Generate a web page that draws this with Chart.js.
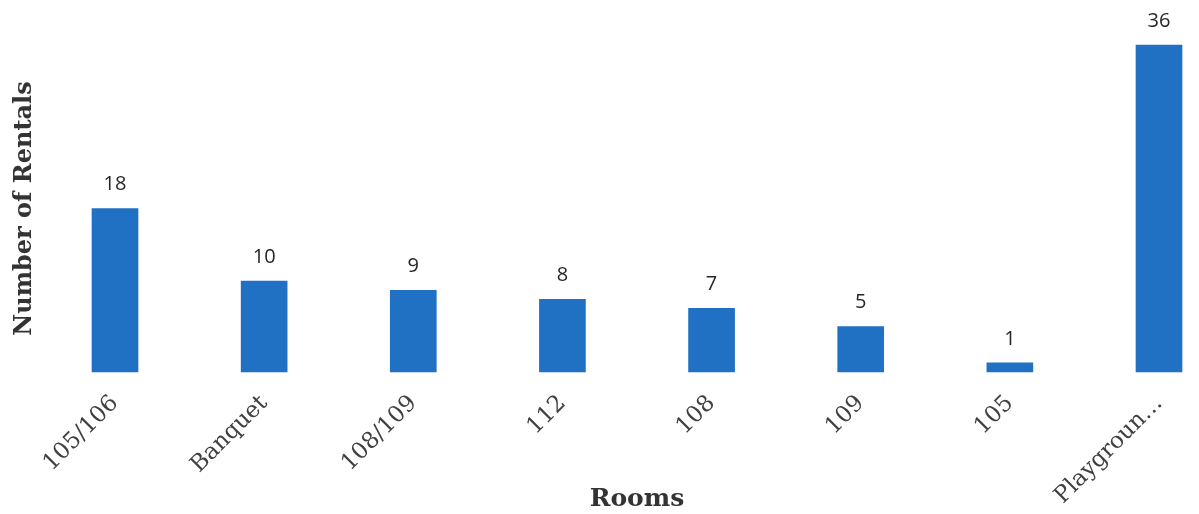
<!DOCTYPE html>
<html>
<head>
<meta charset="utf-8">
<script src="https://cdn.jsdelivr.net/npm/chart.js@4.4.1/dist/chart.umd.min.js"></script>
<style>
  html, body { margin: 0; padding: 0; background: #ffffff; }
  #wrap { width: 1199px; height: 514px; position: relative; }
</style>
</head>
<body>
<div id="wrap"><canvas id="c" width="1199" height="514"></canvas></div>
<script>
const rooms = ["105/106", "Banquet", "108/109", "112", "108", "109", "105", "Playgroun\u2026"];
const rentals = [18, 10, 9, 8, 7, 5, 1, 36];
const yTitle = "Number of Rentals";
const xTitle = "Rooms";

const valueLabels = {
  id: 'valueLabels',
  afterDatasetsDraw(chart) {
    const ctx = chart.ctx;
    const meta = chart.getDatasetMeta(0);
    ctx.save();
    ctx.font = '20px "Open Sans", "Noto Sans", sans-serif';
    ctx.fillStyle = '#262626';
    ctx.textAlign = 'center';
    ctx.textBaseline = 'middle';
    meta.data.forEach((bar, i) => {
      ctx.fillText(String(chart.data.datasets[0].data[i]), bar.x, bar.y - 24);
    });
    ctx.restore();
  }
};

new Chart(document.getElementById('c'), {
  type: 'bar',
  data: {
    labels: rooms,
    datasets: [{
      data: rentals,
      backgroundColor: '#2070c4',
      borderWidth: 0,
      barThickness: 46,
      clip: false
    }]
  },
  options: {
    responsive: false,
    animation: false,
    layout: { padding: { top: 45, right: 40, left: 0, bottom: 0 } },
    plugins: {
      legend: { display: false },
      tooltip: { enabled: false }
    },
    scales: {
      x: {
        offset: false,
        grid: { display: false },
        border: { display: false },
        ticks: {
          autoSkip: false,
          maxRotation: 45,
          minRotation: 45,
          padding: 10,
          color: '#404040',
          font: { family: '"DejaVu Serif", serif', size: 23 }
        },
        title: {
          display: true,
          text: xTitle,
          color: '#333333',
          padding: { top: 4, bottom: 0 },
          font: { family: '"DejaVu Serif", serif', size: 25, weight: 'bold' }
        },
        afterFit(scale) { scale.height = 142; }
      },
      y: {
        min: 0,
        max: 36,
        grid: { display: false },
        border: { display: false },
        ticks: { display: false },
        title: {
          display: true,
          text: yTitle,
          color: '#333333',
          padding: { top: 10, bottom: 0 },
          font: { family: '"DejaVu Serif", serif', size: 24, weight: 'bold' }
        },
        afterFit(scale) { scale.width = 115; }
      }
    }
  },
  plugins: [valueLabels]
});
</script>
</body>
</html>
